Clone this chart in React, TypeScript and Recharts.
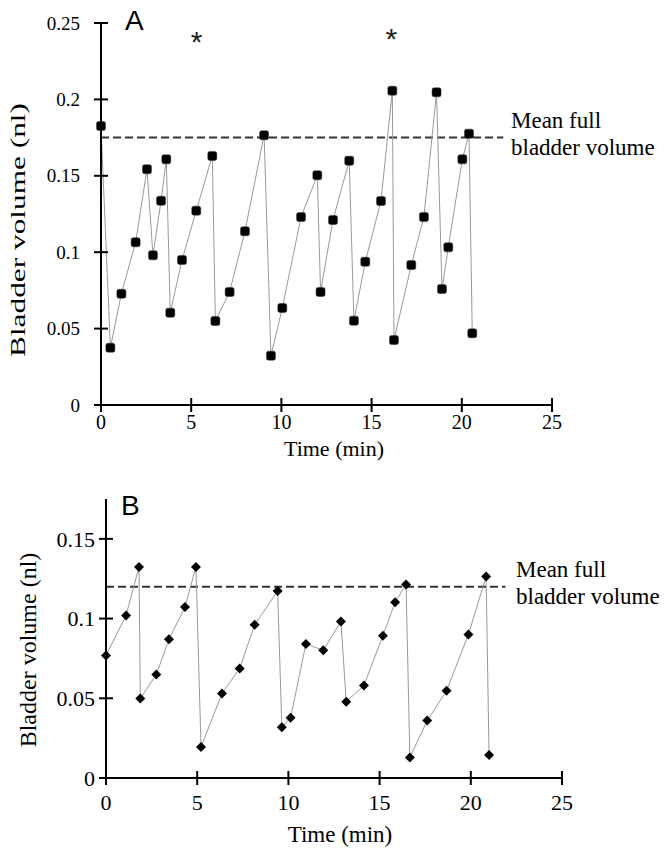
import React from "react";
import {
  LineChart,
  Line,
  XAxis,
  YAxis,
  ReferenceLine,
  ReferenceDot,
} from "recharts";

// panel A: time (min) and bladder volume (nl)
const timeA = [
  0, 0.52, 1.13, 1.92, 2.55, 2.88, 3.33, 3.62, 3.84, 4.49, 5.28, 6.17, 6.34,
  7.13, 7.98, 9.04, 9.42, 10.05, 11.09, 11.99, 12.17, 12.86, 13.76, 14.02,
  14.65, 15.52, 16.15, 16.24, 17.2, 17.9, 18.6, 18.9, 19.25, 20.03, 20.4,
  20.58,
];
const volA = [
  0.1826, 0.0375, 0.0728, 0.1065, 0.1543, 0.098, 0.1337, 0.1608, 0.0604,
  0.0949, 0.1272, 0.163, 0.055, 0.074, 0.1137, 0.1765, 0.0323, 0.0635, 0.123,
  0.1503, 0.074, 0.1211, 0.1599, 0.0552, 0.0938, 0.1335, 0.2057, 0.0425,
  0.0916, 0.123, 0.2046, 0.0759, 0.1032, 0.1608, 0.1776, 0.0469,
];

// panel B
const timeB = [
  0, 1.1, 1.81, 1.88, 2.76, 3.45, 4.33, 4.93, 5.21, 6.36, 7.33, 8.15, 9.41,
  9.64, 10.12, 10.96, 11.91, 12.88, 13.17, 14.14, 15.18, 15.85, 16.45, 16.66,
  17.61, 18.67, 19.87, 20.84, 21.0,
];
const volB = [
  0.0769, 0.102, 0.1324, 0.0498, 0.0649, 0.087, 0.1072, 0.1324, 0.0195, 0.053,
  0.0687, 0.0961, 0.1173, 0.0318, 0.0378, 0.0841, 0.0801, 0.0982, 0.0479,
  0.058, 0.0892, 0.1103, 0.1213, 0.0129, 0.036, 0.0547, 0.09, 0.1264, 0.0145,
];

const xTicks = [0, 5, 10, 15, 20, 25];
const yTicksA = [0, 0.05, 0.1, 0.15, 0.2, 0.25];
const yTicksB = [0, 0.05, 0.1, 0.15];

const meanFullA = 0.175;
const meanFullB = 0.12;
const meanLineEndA = 22.3;
const meanLineEndB = 21.9;
const starsA = [
  { t: 5.3, v: 0.231 },
  { t: 16.1, v: 0.233 },
];

const dataA = timeA.map((t, i) => ({ t, v: volA[i] }));
const dataB = timeB.map((t, i) => ({ t, v: volB[i] }));

const SERIF = "'Liberation Serif', 'Times New Roman', serif";
const SANS = "'Liberation Sans', Arial, sans-serif";

function makeYTick(axisX: number, gap: number, fontSize: number) {
  return (props: any) => {
    const { y, payload } = props;
    return (
      <g>
        <line x1={axisX - 7} x2={axisX + 7} y1={y} y2={y} stroke="#000" strokeWidth={2} />
        <text
          x={axisX - gap}
          y={y}
          dy="0.35em"
          textAnchor="end"
          fontFamily={SERIF}
          fontSize={fontSize}
          fill="#000"
        >
          {String(payload.value)}
        </text>
      </g>
    );
  };
}

function makeXTick(axisY: number, baseline: number, fontSize: number) {
  return (props: any) => {
    const { x, payload } = props;
    return (
      <g>
        <line x1={x} x2={x} y1={axisY - 7} y2={axisY + 7} stroke="#000" strokeWidth={2} />
        <text x={x} y={baseline} textAnchor="middle" fontFamily={SERIF} fontSize={fontSize} fill="#000">
          {String(payload.value)}
        </text>
      </g>
    );
  };
}

const squareDot = (props: any) => {
  const { cx, cy, index } = props;
  return <rect key={index} x={cx - 4.5} y={cy - 4.5} width={9} height={9} rx={2} fill="#000" stroke="#333" strokeWidth={0.5} />;
};

const diamondDot = (props: any) => {
  const { cx, cy, index } = props;
  return (
    <path
      key={index}
      d={`M${cx},${cy - 5} L${cx + 5},${cy} L${cx},${cy + 5} L${cx - 5},${cy} Z`}
      fill="#000"
    />
  );
};

const starShape = (props: any) => (
  <text x={props.cx} y={props.cy} textAnchor="middle" fontFamily={SANS} fontSize={30} fill="#222">
    *
  </text>
);

export default function App() {
  return (
    <div style={{ position: "absolute", left: 0, top: 0, width: 664, height: 852, background: "#fff" }}>
      <div style={{ position: "absolute", left: 0, top: 0 }}>
        <LineChart width={664} height={470} data={dataA} margin={{ top: 23, right: 112, bottom: 0, left: 0 }}>
          <XAxis
            type="number"
            dataKey="t"
            domain={[0, 25]}
            ticks={xTicks}
            height={65}
            axisLine={{ stroke: "#000", strokeWidth: 2 }}
            tickLine={false}
            tick={makeXTick(405, 429, 20)}
            interval={0}
          />
          <YAxis
            type="number"
            domain={[0, 0.25]}
            ticks={yTicksA}
            width={101}
            axisLine={{ stroke: "#000", strokeWidth: 2 }}
            tickLine={false}
            tick={makeYTick(101, 21, 19)}
            interval={0}
          />
          <ReferenceLine
            segment={[
              { x: 0, y: meanFullA },
              { x: meanLineEndA, y: meanFullA },
            ]}
            stroke="#333"
            strokeWidth={2}
            strokeDasharray="8 4"
          />
          <Line
            type="linear"
            dataKey="v"
            stroke="#999"
            strokeWidth={1}
            dot={squareDot}
            activeDot={false}
            isAnimationActive={false}
          />
          {starsA.map((s, i) => (
            <ReferenceDot key={i} x={s.t} y={s.v} r={0} shape={starShape} />
          ))}
        </LineChart>
      </div>
      <div style={{ position: "absolute", left: 0, top: 470 }}>
        <LineChart width={664} height={370} data={dataB} margin={{ top: 29, right: 102, bottom: 0, left: 0 }}>
          <XAxis
            type="number"
            dataKey="t"
            domain={[0, 25]}
            ticks={xTicks}
            height={62}
            axisLine={{ stroke: "#000", strokeWidth: 2 }}
            tickLine={false}
            tick={makeXTick(308, 340, 22)}
            interval={0}
          />
          <YAxis
            type="number"
            domain={[0, 0.175]}
            ticks={yTicksB}
            width={106}
            axisLine={{ stroke: "#000", strokeWidth: 2 }}
            tickLine={false}
            tick={makeYTick(106, 11, 22)}
            interval={0}
          />
          <ReferenceLine
            segment={[
              { x: 0, y: meanFullB },
              { x: meanLineEndB, y: meanFullB },
            ]}
            stroke="#333"
            strokeWidth={2}
            strokeDasharray="8 4"
          />
          <Line
            type="linear"
            dataKey="v"
            stroke="#999"
            strokeWidth={1}
            dot={diamondDot}
            activeDot={false}
            isAnimationActive={false}
          />
        </LineChart>
      </div>
      <svg width={664} height={852} style={{ position: "absolute", left: 0, top: 0, pointerEvents: "none" }}>
        <text x={125} y={30} fontFamily={SANS} fontSize={28} fill="#000">A</text>
        <text x={121} y={515} fontFamily={SANS} fontSize={28} fill="#000">B</text>
        <text x={334} y={456} textAnchor="middle" fontFamily={SERIF} fontSize={22} fill="#000">Time (min)</text>
        <text x={340} y={842} textAnchor="middle" fontFamily={SERIF} fontSize={23} fill="#000">Time (min)</text>
        <text
          x={0}
          y={0}
          transform="translate(25,230) rotate(-90)"
          textAnchor="middle"
          fontFamily={SERIF}
          fontSize={22}
          textLength={254}
          lengthAdjust="spacingAndGlyphs"
          fill="#000"
        >
          Bladder volume (nl)
        </text>
        <text
          x={0}
          y={0}
          transform="translate(36,650) rotate(-90)"
          textAnchor="middle"
          fontFamily={SERIF}
          fontSize={24}
          fill="#000"
        >
          Bladder volume (nl)
        </text>
        <text x={511} y={128} fontFamily={SERIF} fontSize={23} fill="#000">Mean full</text>
        <text x={511} y={155} fontFamily={SERIF} fontSize={23} fill="#000">bladder volume</text>
        <text x={516} y={577} fontFamily={SERIF} fontSize={23} fill="#000">Mean full</text>
        <text x={516} y={604} fontFamily={SERIF} fontSize={23} fill="#000">bladder volume</text>
      </svg>
    </div>
  );
}
